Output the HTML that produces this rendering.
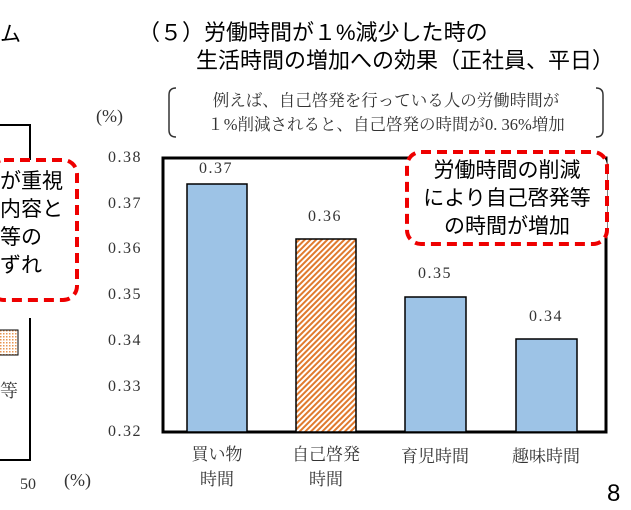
<!DOCTYPE html>
<html><head><meta charset="utf-8"><style>
body{margin:0;width:631px;height:510px;overflow:hidden;background:#fff;position:relative;font-family:"Liberation Sans","Noto Sans CJK JP",sans-serif;}
.a{position:absolute;white-space:nowrap;}
.s{font-family:"Liberation Serif","Noto Serif CJK SC",serif;color:#333;}
.n{letter-spacing:1.5px;}
</style></head><body>
<svg width="631" height="510" style="position:absolute;left:0;top:0">
<defs><pattern id="h" width="4" height="4" patternUnits="userSpaceOnUse" patternTransform="rotate(45)"><rect width="4" height="4" fill="#fff"/><rect width="2" height="4" fill="#e07a2e"/></pattern>
<pattern id="d" width="3" height="3" patternUnits="userSpaceOnUse"><rect width="3" height="3" fill="#fff"/><rect width="1.5" height="1.5" fill="#e8954f"/></pattern></defs>
<polyline points="0,125 30,125 30,188" fill="none" stroke="#000" stroke-width="2"/>
<polyline points="30,318 30,460 0,460" fill="none" stroke="#000" stroke-width="2"/>
<rect x="-10" y="160" width="87" height="140" rx="14" fill="#fff" stroke="#e00" stroke-width="4" stroke-dasharray="10,6"/>
<rect x="-2" y="330" width="20" height="25" fill="url(#d)" stroke="#000" stroke-width="1"/>
<rect x="163" y="158" width="443" height="274" fill="none" stroke="#000" stroke-width="3"/>
<rect x="187" y="184" width="60" height="248" fill="#9dc3e6" stroke="#000" stroke-width="1.5"/>
<rect x="296" y="239" width="60" height="193" fill="url(#h)" stroke="#000" stroke-width="1.5"/>
<rect x="405" y="297" width="61" height="135" fill="#9dc3e6" stroke="#000" stroke-width="1.5"/>
<rect x="516" y="339" width="61" height="93" fill="#9dc3e6" stroke="#000" stroke-width="1.5"/>
<rect x="407" y="152" width="200" height="92" rx="14" fill="#fff" stroke="#e00" stroke-width="4" stroke-dasharray="10,6"/>
<path d="M176,88 Q169,88 169,95 L169,130 Q169,137 176,137" fill="none" stroke="#333" stroke-width="1.5"/>
<path d="M596,88 Q603,88 603,95 L603,130 Q603,137 596,137" fill="none" stroke="#333" stroke-width="1.5"/>
</svg>
<div class="a" style="left:0;top:18px;font-size:21px">ム</div>
<div class="a" style="left:138px;top:19px;font-size:22px;line-height:28px">（５）労働時間が１%減少した時の</div>
<div class="a" style="left:196px;top:47px;font-size:22px;line-height:28px">生活時間の増加への効果（正社員、平日）</div>
<div class="a s" style="left:176px;top:89px;font-size:16.5px;line-height:24px;text-align:center;width:420px">例えば、自己啓発を行っている人の労働時間が<br>１%削減されると、自己啓発の時間が0.&nbsp;36%増加</div>
<div class="a s" style="left:96px;top:106px;font-size:18px">(%)</div>
<div class="a" style="left:0;top:168px;font-size:21px;line-height:28px">が重視<br>内容と<br>等の<br>ずれ</div>
<div class="a s" style="left:0;top:377px;font-size:18px">等</div>
<div class="a s" style="left:20px;top:476px;font-size:16px">50</div>
<div class="a s" style="left:64px;top:470px;font-size:18px">(%)</div>
<div class="a s n" style="left:108px;top:135px;font-size:16px;line-height:45.7px">0.38<br>0.37<br>0.36<br>0.35<br>0.34<br>0.33<br>0.32</div>
<div class="a s n" style="left:199px;top:160px;font-size:16px">0.37</div>
<div class="a s n" style="left:308px;top:208px;font-size:16px">0.36</div>
<div class="a s n" style="left:418px;top:265px;font-size:16px">0.35</div>
<div class="a s n" style="left:529px;top:308px;font-size:16px">0.34</div>
<div class="a s" style="left:187px;top:442px;font-size:17px;line-height:25px;text-align:center;width:60px">買い物<br>時間</div>
<div class="a s" style="left:286px;top:442px;font-size:17px;line-height:25px;text-align:center;width:80px">自己啓発<br>時間</div>
<div class="a s" style="left:395px;top:442px;font-size:17px;width:80px;text-align:center">育児時間</div>
<div class="a s" style="left:506px;top:442px;font-size:17px;width:80px;text-align:center">趣味時間</div>
<div class="a" style="left:407px;top:157px;width:200px;text-align:center;font-size:21px;line-height:28px">労働時間の削減<br>により自己啓発等<br>の時間が増加</div>
<div class="a" style="left:607px;top:480px;font-size:24px">8</div>
</body></html>
